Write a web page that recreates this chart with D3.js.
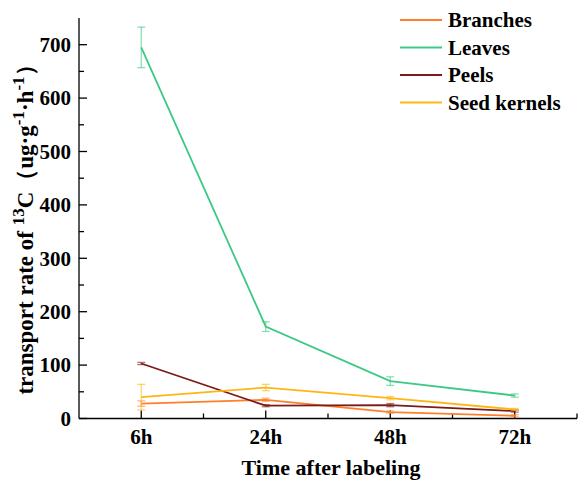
<!DOCTYPE html>
<html lang="en">
<head>
  <meta charset="UTF-8">
  <title>13C transport rate</title>
  <script src="https://cdn.jsdelivr.net/npm/d3@7/dist/d3.min.js"></script>
  <style>
    body { margin: 0; background: white; }
    svg { display: block; }
    text { font-family: "Liberation Serif", "Times New Roman", serif; font-weight: bold; fill: black; }
  </style>
</head>
<body>
<svg id="chart" width="579" height="483"></svg>
<script>
  // data
  const times = ['6h', '24h', '48h', '72h'];
  const seriesNames = ['Branches', 'Leaves', 'Peels', 'Seed kernels'];
  const branches    = [28, 35, 12, 5];
  const branchesErr = [5, 3, 2, 2];
  const leaves      = [695, 172, 70, 43];
  const leavesErr   = [38, 9, 8, 3];
  const peels       = [103, 24, 25, 14];
  const peelsErr    = [2, 2, 3, 2];
  const kernels     = [40, 58, 38, 17];
  const kernelsErr  = [24, 6, 3, 2];
  const yTicks = [0, 100, 200, 300, 400, 500, 600, 700];

  const colors = ['#FF7F2A', '#3DC985', '#7B1A1A', '#FFB514'];
  const values = [branches, leaves, peels, kernels];
  const errors = [branchesErr, leavesErr, peelsErr, kernelsErr];

  const svg = d3.select('#chart');
  const mLeft = 79, mRight = 577, mTop = 18, mBottom = 418.5;

  const x = d3.scalePoint().domain(times).range([mLeft, mRight]).padding(0.5);
  const y = d3.scaleLinear().domain([0, 750]).range([mBottom, mTop]);

  // y axis
  const yAxis = svg.append('g').attr('transform', `translate(${mLeft},0)`);
  yAxis.append('line').attr('y1', mTop).attr('y2', mBottom).attr('stroke', 'black').attr('stroke-width', 1.3);
  yAxis.selectAll('line.major').data(yTicks).enter().append('line')
    .attr('class', 'major').attr('x1', 0).attr('x2', 8)
    .attr('y1', d => y(d)).attr('y2', d => y(d)).attr('stroke', 'black').attr('stroke-width', 1.3);
  yAxis.selectAll('line.minor').data(d3.range(50, 750, 100)).enter().append('line')
    .attr('class', 'minor').attr('x1', 0).attr('x2', 5)
    .attr('y1', d => y(d)).attr('y2', d => y(d)).attr('stroke', 'black').attr('stroke-width', 1.3);
  yAxis.selectAll('text').data(yTicks).enter().append('text')
    .attr('x', -8).attr('y', d => y(d)).attr('dy', '0.35em')
    .attr('text-anchor', 'end').style('font-size', '21px').text(d => d);

  // x axis
  const xAxis = svg.append('g').attr('transform', `translate(0,${mBottom})`);
  xAxis.append('line').attr('x1', mLeft).attr('x2', mRight).attr('stroke', 'black').attr('stroke-width', 1.3);
  xAxis.selectAll('line.major').data(times).enter().append('line')
    .attr('class', 'major').attr('x1', d => x(d)).attr('x2', d => x(d))
    .attr('y1', 0).attr('y2', -8).attr('stroke', 'black').attr('stroke-width', 1.3);
  const step = x.step();
  const minorX = times.map(d => x(d) + step / 2);
  xAxis.selectAll('line.minor').data(minorX).enter().append('line')
    .attr('class', 'minor').attr('x1', d => d).attr('x2', d => d)
    .attr('y1', 0).attr('y2', -5).attr('stroke', 'black').attr('stroke-width', 1.3);
  xAxis.selectAll('text').data(times).enter().append('text')
    .attr('x', d => x(d)).attr('y', 25).attr('text-anchor', 'middle')
    .style('font-size', '21px').text(d => d);

  // axis titles
  svg.append('text').attr('x', 331).attr('y', 475).attr('text-anchor', 'middle')
    .style('font-size', '22px').text('Time after labeling');

  const yt = svg.append('text').attr('transform', 'translate(33,224) rotate(-90)')
    .attr('text-anchor', 'middle').style('font-size', '23px');
  yt.append('tspan').text('transport rate of ');
  yt.append('tspan').attr('dy', -9).style('font-size', '17px').text('13');
  yt.append('tspan').attr('dy', 9).text('C（ug·g');
  yt.append('tspan').attr('dy', -9).style('font-size', '17px').text('-1');
  yt.append('tspan').attr('dy', 9).text('·h');
  yt.append('tspan').attr('dy', -9).style('font-size', '17px').text('-1');
  yt.append('tspan').attr('dy', 9).text('）');

  // series
  const line = d3.line().x((d, i) => x(times[i])).y(d => y(d));
  seriesNames.forEach((name, s) => {
    const g = svg.append('g');
    const vals = values[s], errs = errors[s];
    g.selectAll('g.err').data(vals).enter().append('g').attr('class', 'err')
      .attr('stroke', colors[s]).attr('stroke-opacity', 0.6).attr('stroke-width', 1.3)
      .each(function(d, i) {
        const e = d3.select(this), cx = x(times[i]);
        e.append('line').attr('x1', cx).attr('x2', cx).attr('y1', y(d - errs[i])).attr('y2', y(d + errs[i]));
        e.append('line').attr('x1', cx - 4).attr('x2', cx + 4).attr('y1', y(d - errs[i])).attr('y2', y(d - errs[i]));
        e.append('line').attr('x1', cx - 4).attr('x2', cx + 4).attr('y1', y(d + errs[i])).attr('y2', y(d + errs[i]));
      });
    g.append('path').datum(vals).attr('d', line)
      .attr('fill', 'none').attr('stroke', colors[s]).attr('stroke-width', 1.8);
  });

  // legend
  const legend = svg.append('g');
  seriesNames.forEach((name, s) => {
    const ly = 20 + s * 27.5;
    legend.append('line').attr('x1', 400).attr('x2', 442).attr('y1', ly).attr('y2', ly)
      .attr('stroke', colors[s]).attr('stroke-width', 1.8);
    legend.append('text').attr('x', 448).attr('y', ly).attr('dy', '0.35em')
      .style('font-size', '21px').text(name);
  });
</script>
</body>
</html>
